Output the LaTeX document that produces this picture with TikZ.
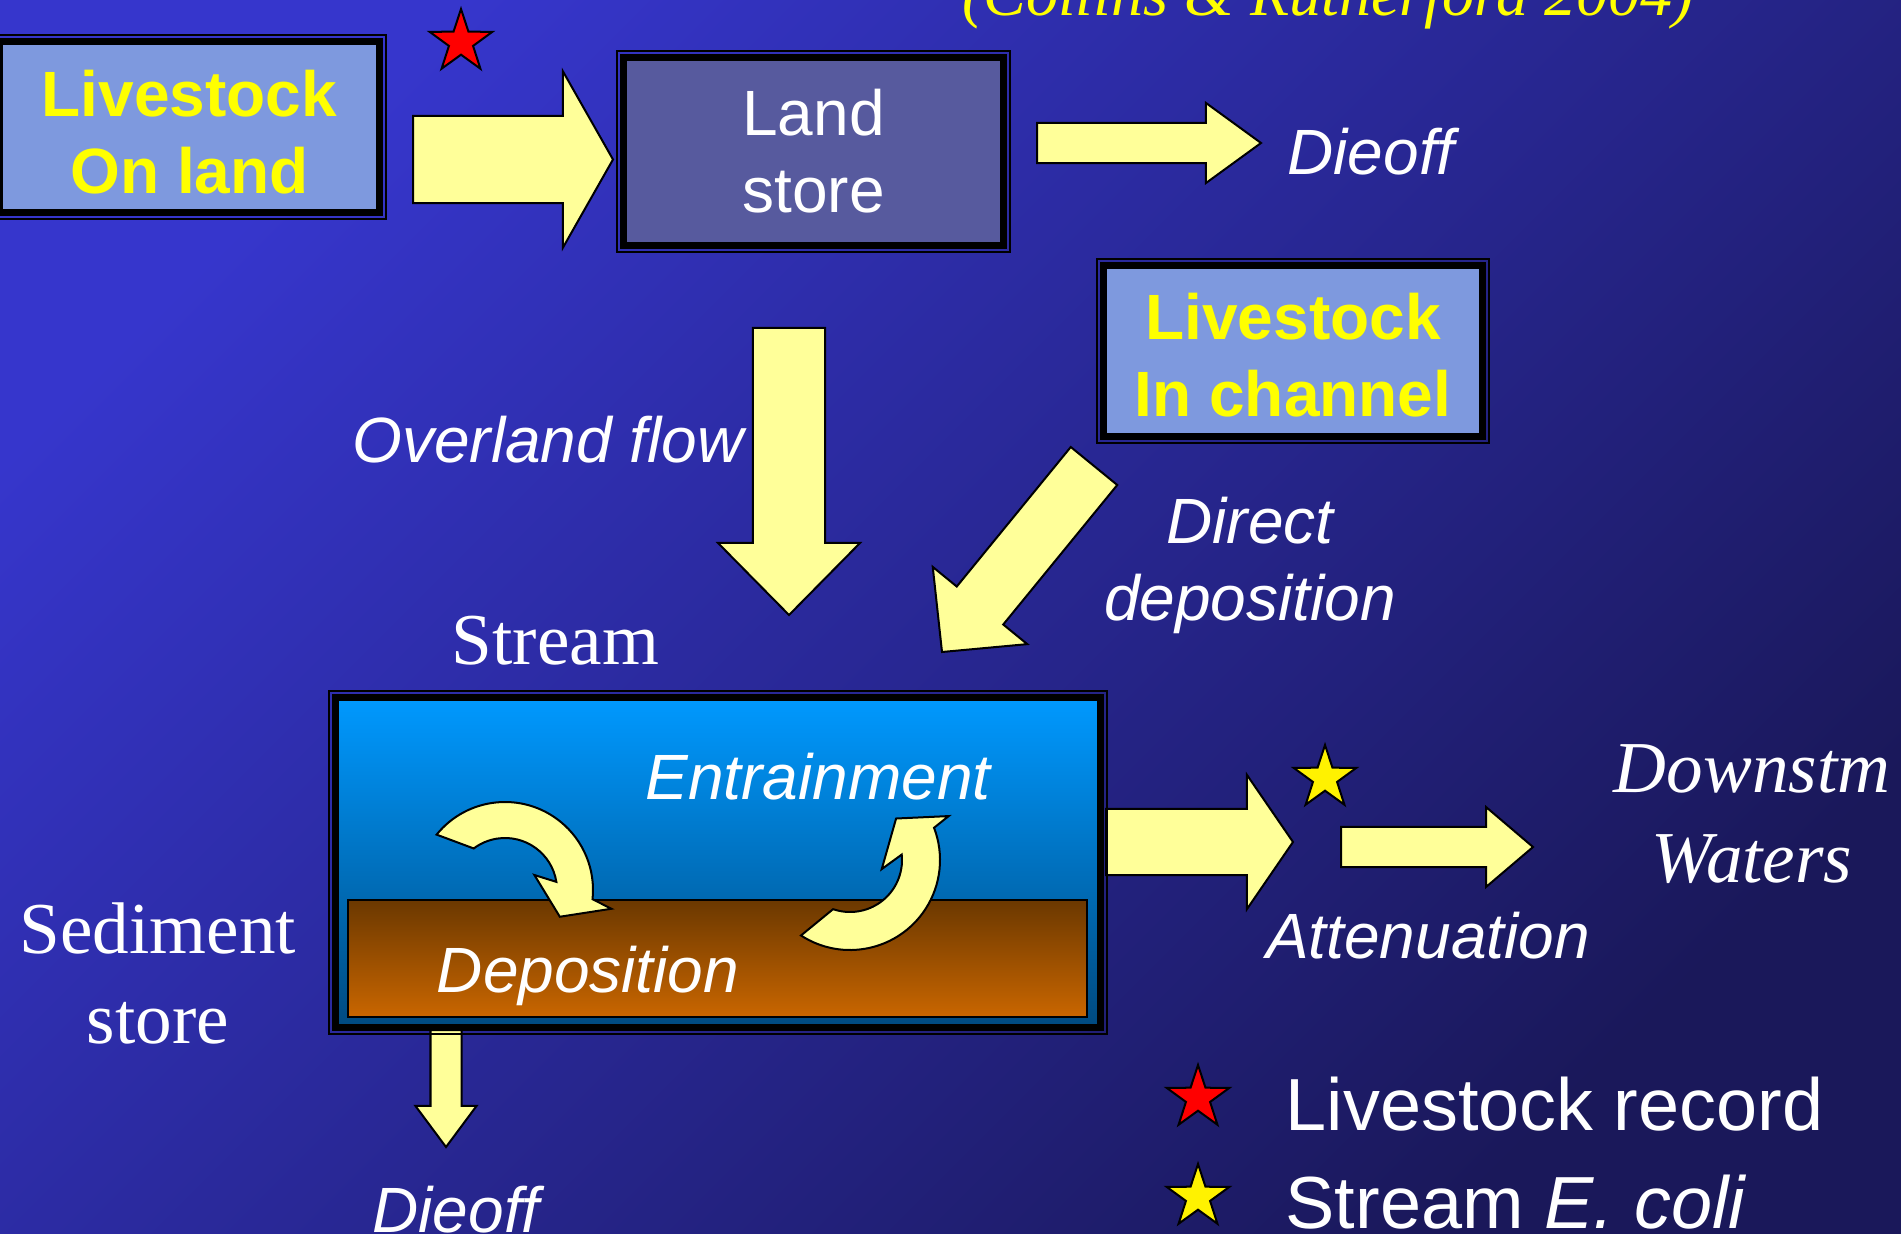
\documentclass[tikz,border=0pt]{standalone}
\usepackage{fontspec}
\setmainfont{Liberation Serif}
\setsansfont{Liberation Sans}
\usepackage{tikz}
\usetikzlibrary{shapes.geometric,calc}
\usepackage{xcolor}

\definecolor{bgtop}{HTML}{3636CC}
\definecolor{bgbot}{HTML}{1A185A}
\definecolor{lightbox}{HTML}{7E99DE}
\definecolor{landbox}{HTML}{575A9E}
\definecolor{arrowfill}{HTML}{FFFF99}
\definecolor{watertop}{HTML}{0099FF}
\definecolor{waterbot}{HTML}{004A80}
\definecolor{sedtop}{HTML}{6B3800}
\definecolor{sedbot}{HTML}{C96600}
\definecolor{txtyellow}{HTML}{FFFF00}

\newcommand{\fatarrow}[5]{\draw[fat] ($(#1)!#3!90:(#2)$) -- ($(#2)!#5!(#1)!#3!-90:(#1)$) -- ($(#2)!#5!(#1)!#4!-90:(#1)$) -- (#2) -- ($(#2)!#5!(#1)!#4!90:(#1)$) -- ($(#2)!#5!(#1)!#3!90:(#1)$) -- ($(#1)!#3!-90:(#2)$) -- cycle;}
\newcommand{\outerframe}[1]{\draw[line width=0.015cm] ([shift={(-3,-3)}]#1.north west) rectangle ([shift={(3,3)}]#1.south east);}

\begin{document}
\begin{tikzpicture}[x=0.01cm, y=-0.01cm]
\useasboundingbox (0,0) rectangle (1901,1234);
\clip (0,0) rectangle (1901,1234);
\shade[top color=bgtop, bottom color=bgbot, shading angle=45] (0,0) rectangle (1901,1234);
\tikzstyle{fat} = [draw=black, fill=arrowfill, line width=0.02cm]
\tikzstyle{box} = [rectangle, draw=black, line width=0.07cm, inner sep=0cm, align=center, font=\sffamily\fontsize{18.2}{21.9}\selectfont]
\tikzstyle{bbox} = [box, text=txtyellow, fill=lightbox, font=\sffamily\bfseries\fontsize{18.2}{21.9}\selectfont]
\tikzstyle{lbl} = [inner sep=0cm, text=white, font=\sffamily\itshape\fontsize{18.2}{21.9}\selectfont]
\tikzstyle{serif} = [inner sep=0cm, text=white, align=center, font=\rmfamily\fontsize{20.8}{25.6}\selectfont]
\tikzstyle{legendtxt} = [inner sep=0cm, text=white, font=\sffamily\fontsize{21}{25}\selectfont]
\tikzstyle{starmark} = [star, star points=5, star point ratio=2.6, draw=black, line width=0.02cm, minimum size=0.66cm, inner sep=0cm]

\coordinate (a1s) at (413,159.5);
\coordinate (a1e) at (613,159.5);
\coordinate (a2s) at (1037,143);
\coordinate (a2e) at (1261,143);
\coordinate (a3s) at (789,328);
\coordinate (a3e) at (789,615);
\coordinate (a4s) at (1094,466);
\coordinate (a4e) at (942,652);
\coordinate (a5s) at (1106,842);
\coordinate (a5e) at (1293,842);
\coordinate (a6s) at (1341,847);
\coordinate (a6e) at (1533,847);
\coordinate (a7s) at (446,1030);
\coordinate (a7e) at (446,1147);
\fatarrow{a1s}{a1e}{0.435cm}{0.88cm}{0.5cm}
\fatarrow{a2s}{a2e}{0.2cm}{0.4cm}{0.55cm}
\fatarrow{a3s}{a3e}{0.36cm}{0.71cm}{0.72cm}
\fatarrow{a4s}{a4e}{0.3cm}{0.61cm}{0.6cm}
\fatarrow{a5s}{a5e}{0.33cm}{0.67cm}{0.46cm}
\fatarrow{a6s}{a6e}{0.2cm}{0.4cm}{0.47cm}
\fatarrow{a7s}{a7e}{0.155cm}{0.305cm}{0.41cm}

\node[bbox, minimum width=3.8cm, minimum height=1.71cm] (onland) at (189.5,127) {\rule{0pt}{0.56cm}Livestock\\On land};
\node[box, fill=landbox, text=white, minimum width=3.8cm, minimum height=1.88cm] (landstore) at (813.5,151.5) {Land\\store};
\node[bbox, minimum width=3.79cm, minimum height=1.71cm] (inchannel) at (1293,351) {\rule{0pt}{0.55cm}Livestock\\In channel};
\node[box, top color=watertop, bottom color=waterbot, minimum width=7.65cm, minimum height=3.3cm] (stream) at (718,862.5) {};
\outerframe{onland}
\outerframe{landstore}
\outerframe{inchannel}
\outerframe{stream}
\node[draw=black, line width=0.015cm, top color=sedtop, bottom color=sedbot, minimum width=7.39cm, minimum height=1.17cm, inner sep=0cm] (sediment) at (717.5,958.5) {};

\draw[fat, shift={(505,890)}] (219:88) arc[start angle=219, end angle=366, radius=88] -- (10:108) -- (26:61) -- (-27:33) -- (-9:52) arc[start angle=-9, end angle=-127, radius=52] -- cycle;
\draw[fat, shift={(850,860)}] (123:90) arc[start angle=123, end angle=-21, radius=90] -- (-24:108) -- (-42:62) -- (16:33) -- (-6:52) arc[start angle=-6, end angle=109, radius=52] -- cycle;

\node[serif, anchor=base, text=txtyellow, font=\rmfamily\itshape\fontsize{18.2}{21.9}\selectfont] (source) at (1328,16) {(Collins \& Rutherford 2004)};
\node[lbl, anchor=base] (dieoff) at (1371,175) {Dieoff};
\node[lbl, anchor=base] (overland) at (548,463) {Overland flow};
\node[lbl, align=center] (direct) at (1250,565) {Direct\\deposition};
\node[lbl, anchor=base] (entrain) at (818,799) {Entrainment};
\node[lbl, anchor=base] (deposit) at (588,992) {Deposition};
\node[lbl, anchor=base] (atten) at (1428,958) {Attenuation};
\node[lbl, anchor=base] (dieoffsed) at (456,1232) {Dieoff};
\node[serif, anchor=base] (streamlbl) at (555.5,664) {Stream};
\node[serif] (sedstore) at (158,973) {Sediment\\store};
\node[serif, font=\rmfamily\itshape\fontsize{20.8}{25.6}\selectfont] (downstm) at (1752,814) {Downstm\\Waters};
\node[legendtxt, anchor=base west] (leglive) at (1285,1130) {Livestock record};
\node[legendtxt, anchor=base west] (legecoli) at (1285,1228) {Stream \textit{E. coli}};

\node[starmark, fill=red] (starland) at (461,42) {};
\node[starmark, fill=yellow] (starstream) at (1325,778) {};
\node[starmark, fill=red] (starlive) at (1198,1098) {};
\node[starmark, fill=yellow] (starecoli) at (1198,1197) {};
\end{tikzpicture}
\end{document}
